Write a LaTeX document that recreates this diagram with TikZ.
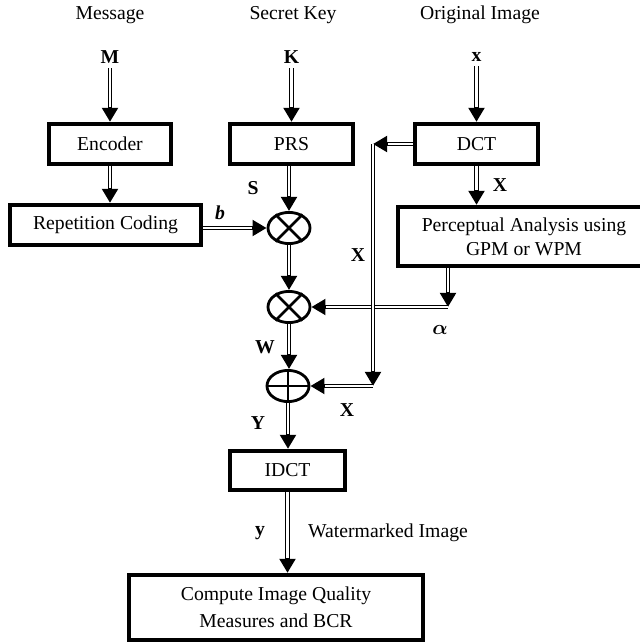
\documentclass[tikz,border=0pt]{standalone}
\usepackage{fontspec}
\setmainfont{Liberation Serif}
\usepackage{amsmath}
\usetikzlibrary{arrows.meta,shapes.geometric}
\begin{document}
\begin{tikzpicture}[x=0.025cm,y=-0.025cm,
  font=\fontsize{14}{16}\selectfont,
  khung/.style={draw,line width=3pt,inner sep=0pt,align=center},
  tron/.style={draw,ellipse,line width=2pt,minimum width=1.05cm,minimum height=0.78cm,inner sep=0pt},
  mui/.style={line width=3.4pt,-{Triangle[length=10pt,width=11pt]},
    postaction={draw=white,line width=1.5pt,-,shorten >=10.5pt}},
  nhan/.style={font=\fontsize{14}{16}\selectfont\bfseries}]
\useasboundingbox (0,0) rectangle (639,644);
%Tieu de
\node (tdM) at (110,15) {Message};
\node (tdK) at (293,15) {Secret Key};
\node (tdx) at (480,15) {Original Image};
\node[nhan] (M) at (110,57) {M};
\node[nhan] (K) at (291.5,57) {K};
\node[nhan] (xs) at (476.5,57) {x};
%Khung 1
\node[khung,minimum width=3.05cm,minimum height=1cm] (enc) at (110,144) {Encoder};
\node[khung,minimum width=3.075cm,minimum height=1cm] (prs) at (291.5,144) {PRS};
\node[khung,minimum width=3.075cm,minimum height=1cm] (dct) at (476.5,144) {DCT};
%Khung 2
\node[khung,minimum width=4.775cm,minimum height=1cm] (rep) at (105.5,225) {Repetition Coding};
\node[khung,minimum width=6.3cm,minimum height=1.475cm] (pa) at (524,236.5) {Perceptual Analysis using\\[1pt]GPM or WPM};
%Nhan va cong
\node[tron] (nhan1) at (289,228) {};
\node[tron] (nhan2) at (289,307) {};
\node[tron] (cong) at (288,386) {};
\draw[line width=2pt] (nhan1.45)--(nhan1.225) (nhan1.135)--(nhan1.315);
\draw[line width=2pt] (nhan2.45)--(nhan2.225) (nhan2.135)--(nhan2.315);
\draw[line width=2pt] (cong.north)--(cong.south) (cong.west)--(cong.east);
%Khung 3
\node[khung,minimum width=2.875cm,minimum height=0.975cm] (idct) at (287.5,470.5) {IDCT};
\node[khung,minimum width=7.35cm,minimum height=1.625cm] (cq) at (276,607.5) {Compute Image Quality\\[3pt]Measures and BCR};
%Mui ten
\draw[mui] (M) -- (enc);
\draw[mui] (K) -- (prs);
\draw[mui] (xs) -- (dct);
\draw[mui] (enc.south) -- (enc.south |- rep.north);
\draw[mui] (rep.east |- nhan1) -- (nhan1.west);
\draw[mui] (prs.south -| nhan1) -- (nhan1.north);
\draw[mui] (nhan1) -- (nhan2);
\draw[mui] (nhan2.south) -- (nhan2.south |- cong.north);
\draw[mui] (cong.south) -- (cong.south |- idct.north);
\draw[mui] (idct.south) -- (idct.south |- cq.north);
\draw[mui] (dct.south) -- (dct.south |- pa.north);
%Duong X va alpha
\coordinate (alpha) at (448,307);
\coordinate (xtren) at (373,144);
\coordinate (xduoi) at (373,386);
\draw[mui] (pa.south -| alpha) -- (alpha);
\draw[mui] (alpha) -- (nhan2.east);
\draw[mui] (dct.west) -- (xtren);
\draw[mui] (xtren) -- (xduoi);
\draw[mui] (xduoi) -- (cong.east);
%Ky hieu
\node[nhan] (lS) at (253,188) {S};
\node[nhan] (lb) at (220,213) {\textit{b}};
\node[nhan] (lX1) at (500,185) {X};
\node[nhan] (lX2) at (358,255) {X};
\node[nhan] (la) at (440,330) {$\boldsymbol{\alpha}$};
\node[nhan] (lW) at (265,347) {W};
\node[nhan] (lX3) at (347,410) {X};
\node[nhan] (lY) at (258,423) {Y};
\node[nhan] (ly) at (260,533) {y};
\node (lwm) at (388,533) {Watermarked Image};
\end{tikzpicture}
\end{document}
